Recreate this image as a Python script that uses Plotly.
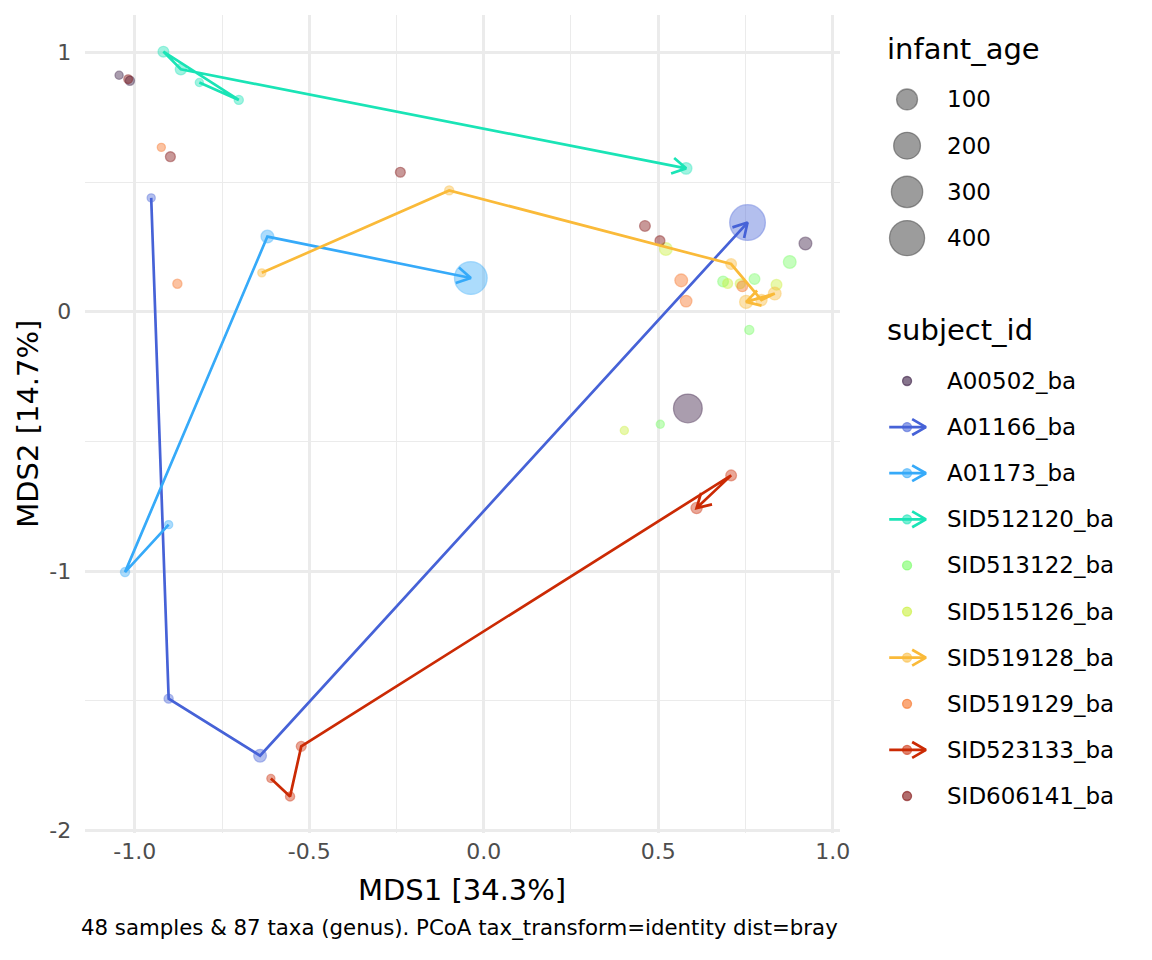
import math
import plotly.graph_objects as go

# ---------------- data ----------------
subjects = ["A00502_ba", "A01166_ba", "A01173_ba", "SID512120_ba", "SID513122_ba",
            "SID515126_ba", "SID519128_ba", "SID519129_ba", "SID523133_ba", "SID606141_ba"]
subject_colors = ["#30123B", "#4662D7", "#36AAF9", "#1AE4B6", "#72FE5E",
                  "#C8EF34", "#FABA39", "#F66B19", "#CB2A04", "#7A0403"]
subject_has_path = [False, True, True, True, False, False, True, False, True, False]

sample_subject = (
    ["A00502_ba"] * 4 + ["A01166_ba"] * 4 + ["A01173_ba"] * 4 + ["SID512120_ba"] * 5 +
    ["SID513122_ba"] * 5 + ["SID515126_ba"] * 5 + ["SID519128_ba"] * 6 +
    ["SID519129_ba"] * 5 + ["SID523133_ba"] * 5 + ["SID606141_ba"] * 5
)
sample_mds1 = [
    -1.045, -1.014, 0.922, 0.585,
    -0.953, -0.903, -0.641, 0.756,
    -0.903, -1.028, -0.620, -0.037,
    -0.815, -0.702, -0.918, -0.868, 0.580,
    0.877, 0.776, 0.686, 0.761, 0.506,
    0.522, 0.699, 0.735, 0.839, 0.403,
    -0.636, -0.099, 0.709, 0.796, 0.834, 0.752,
    -0.924, -0.878, 0.566, 0.580, 0.741,
    -0.610, -0.555, -0.523, 0.709, 0.610,
    -1.019, -0.898, -0.239, 0.462, 0.505,
]
sample_mds2 = [
    0.912, 0.891, 0.263, -0.373,
    0.439, -1.492, -1.712, 0.344,
    -0.821, -1.004, 0.290, 0.130,
    0.884, 0.817, 1.003, 0.935, 0.553,
    0.192, 0.126, 0.117, -0.070, -0.434,
    0.242, 0.109, 0.108, 0.104, -0.458,
    0.150, 0.468, 0.184, 0.045, 0.070, 0.038,
    0.634, 0.108, 0.121, 0.041, 0.098,
    -1.800, -1.869, -1.676, -0.631, -0.757,
    0.897, 0.598, 0.538, 0.331, 0.274,
]
sample_age = [
    1, 3, 18, 240,
    1, 3, 18, 417,
    1, 3, 18, 335,
    1, 3, 8, 10, 12,
    18, 8, 8, 3, 1,
    18, 5, 5, 8, 1,
    1, 3, 8, 10, 18, 20,
    1, 3, 18, 12, 8,
    1, 3, 5, 8, 10,
    2, 5, 5, 8, 5,
]

size_legend_values = [100, 200, 300, 400]
x_tick_vals = [-1.0, -0.5, 0.0, 0.5, 1.0]
x_tick_text = ["-1.0", "-0.5", "0.0", "0.5", "1.0"]
x_minor_vals = [-0.75, -0.25, 0.25, 0.75]
y_tick_vals = [-2, -1, 0, 1]
y_tick_text = ["-2", "-1", "0", "1"]
y_minor_vals = [-1.5, -0.5, 0.5]

x_title = "MDS1 [34.3%]"
y_title = "MDS2 [14.7%]"
caption = "48 samples & 87 taxa (genus). PCoA tax_transform=identity dist=bray"

# ---------------- layout constants ----------------
W, H = 1152, 960
PX_L, PX_R, PX_T, PX_B = 86, 847, 15, 842
X_RANGE = [-1.142, 1.020]
Y_RANGE = [-2.011, 1.145]
SX = (PX_R - PX_L) / (X_RANGE[1] - X_RANGE[0])
SY = (PX_B - PX_T) / (Y_RANGE[1] - Y_RANGE[0])
FONT = "DejaVu Sans"
LINE_W = 2.7
ARROW_LEN = 16
ARROW_ANG = 30
ALPHA = 0.58


def rgba(hex_color, a):
    h = hex_color.lstrip("#")
    r, g, b = int(h[0:2], 16), int(h[2:4], 16), int(h[4:6], 16)
    return f"rgba({r},{g},{b},{a})"


def diam(age):
    return 8 + 1.42 * math.sqrt(age)


def chevron(x0, y0, x1, y1, sx, sy):
    dx, dy = (x1 - x0) * sx, (y1 - y0) * sy
    L = math.hypot(dx, dy)
    vx, vy = -dx / L, -dy / L
    xs, ys = [], []
    for sgn in (1, -1):
        a = math.radians(ARROW_ANG) * sgn
        wx = vx * math.cos(a) - vy * math.sin(a)
        wy = vx * math.sin(a) + vy * math.cos(a)
        xs.append(x1 + ARROW_LEN * wx / sx)
        ys.append(y1 + ARROW_LEN * wy / sy)
    return [xs[0], x1, xs[1]], [ys[0], y1, ys[1]]


fig = go.Figure()

# points
for subj, col in zip(subjects, subject_colors):
    idx = [i for i, s in enumerate(sample_subject) if s == subj]
    fig.add_trace(go.Scatter(
        x=[sample_mds1[i] for i in idx], y=[sample_mds2[i] for i in idx],
        mode="markers", hoverinfo="skip",
        marker=dict(size=[diam(sample_age[i]) - 1.3 for i in idx], color=rgba(col, ALPHA),
                    line=dict(color=rgba(col, ALPHA), width=1.3)),
        xaxis="x", yaxis="y"))

# paths with arrows
for subj, col, hp in zip(subjects, subject_colors, subject_has_path):
    if not hp:
        continue
    idx = [i for i, s in enumerate(sample_subject) if s == subj]
    idx.sort(key=lambda i: sample_age[i])
    xs = [sample_mds1[i] for i in idx]
    ys = [sample_mds2[i] for i in idx]
    fig.add_trace(go.Scatter(x=xs, y=ys, mode="lines", hoverinfo="skip",
                             line=dict(color=col, width=LINE_W), xaxis="x", yaxis="y"))
    cx, cy = chevron(xs[-2], ys[-2], xs[-1], ys[-1], SX, SY)
    fig.add_trace(go.Scatter(x=cx, y=cy, mode="lines", hoverinfo="skip",
                             line=dict(color=col, width=LINE_W), xaxis="x", yaxis="y"))

# ---------------- legends (pixel-space axes) ----------------
LEG_TITLE_X = 893
LEG_SYM_X = 915
LEG_LABEL_X = 953
SIZE_TITLE_Y = 50
SIZE_FIRST_Y = 100.5
SIZE_STEP = 46.7
SUBJ_TITLE_Y = 333
SUBJ_FIRST_Y = 385
SUBJ_STEP = 46.6
LEG_LINE_X0, LEG_LINE_X1 = 897, 934

annotations = []


def ann(text, px, py, size, color="black", xanchor="left", angle=0, yanchor="middle"):
    annotations.append(dict(text=text, x=px / W, y=1 - py / H, xref="paper", yref="paper",
                            xanchor=xanchor, yanchor=yanchor, showarrow=False, textangle=angle,
                            font=dict(family=FONT, size=size, color=color)))


ann("infant_age", LEG_TITLE_X, SIZE_TITLE_Y, 29)
size_y = [SIZE_FIRST_Y + k * SIZE_STEP for k in range(len(size_legend_values))]
fig.add_trace(go.Scatter(
    x=[LEG_SYM_X] * len(size_legend_values), y=size_y, mode="markers", hoverinfo="skip",
    marker=dict(size=[diam(v) - 1.3 for v in size_legend_values], color="rgba(0,0,0,0.55)",
                line=dict(color="rgba(0,0,0,0.55)", width=1.3)),
    xaxis="x2", yaxis="y2"))
for v, yy in zip(size_legend_values, size_y):
    ann(str(v), LEG_LABEL_X, yy, 23)

ann("subject_id", LEG_TITLE_X, SUBJ_TITLE_Y, 29)
for k, (subj, col, hp) in enumerate(zip(subjects, subject_colors, subject_has_path)):
    yy = SUBJ_FIRST_Y + k * SUBJ_STEP
    fig.add_trace(go.Scatter(x=[LEG_SYM_X], y=[yy], mode="markers", hoverinfo="skip",
                             marker=dict(size=9, color=rgba(col, ALPHA),
                                         line=dict(color=rgba(col, ALPHA), width=1.3)),
                             xaxis="x2", yaxis="y2"))
    if hp:
        fig.add_trace(go.Scatter(x=[LEG_LINE_X0, LEG_LINE_X1], y=[yy, yy], mode="lines",
                                 hoverinfo="skip", line=dict(color=col, width=LINE_W),
                                 xaxis="x2", yaxis="y2"))
        cx, cy = chevron(LEG_LINE_X0, yy, LEG_LINE_X1, yy, 1, -1)
        fig.add_trace(go.Scatter(x=cx, y=cy, mode="lines", hoverinfo="skip",
                                 line=dict(color=col, width=LINE_W), xaxis="x2", yaxis="y2"))
    ann(subj, LEG_LABEL_X, yy, 23)

# axis titles & caption
ann(x_title, (PX_L + PX_R) / 2, 899, 29, xanchor="center")
ann(y_title, 28, (PX_T + PX_B) / 2, 29, xanchor="center", angle=-90)
ann(caption, PX_R, 937, 21.3, xanchor="right")

grid_c = "#ebebeb"
fig.update_layout(
    width=W, height=H, margin=dict(l=0, r=0, t=0, b=0),
    paper_bgcolor="white", plot_bgcolor="white", showlegend=False,
    annotations=annotations,
    xaxis=dict(domain=[PX_L / W, PX_R / W], range=X_RANGE, tickmode="array",
               tickvals=x_tick_vals, ticktext=x_tick_text, showgrid=True, gridcolor=grid_c,
               gridwidth=2.6, zeroline=False, showline=False, ticks="",
               ticklabelstandoff=3,
               tickfont=dict(family=FONT, size=22, color="#4d4d4d"),
               minor=dict(tickmode="array", tickvals=x_minor_vals, showgrid=True,
                          gridcolor=grid_c, gridwidth=1.4, ticks=""),
               anchor="y"),
    yaxis=dict(domain=[1 - PX_B / H, 1 - PX_T / H], range=Y_RANGE, tickmode="array",
               tickvals=y_tick_vals, ticktext=y_tick_text, showgrid=True, gridcolor=grid_c,
               gridwidth=2.6, zeroline=False, showline=False, ticks="",
               ticklabelstandoff=13,
               tickfont=dict(family=FONT, size=22, color="#4d4d4d"),
               minor=dict(tickmode="array", tickvals=y_minor_vals, showgrid=True,
                          gridcolor=grid_c, gridwidth=1.4, ticks=""),
               anchor="x"),
    xaxis2=dict(domain=[860 / W, 1], range=[860, W], visible=False, anchor="y2"),
    yaxis2=dict(domain=[0, 1], range=[H, 0], visible=False, anchor="x2"),
)

fig.write_html("out.html", config={"displayModeBar": False},
               post_script="document.body.style.margin='0px';document.body.style.overflow='hidden';")
